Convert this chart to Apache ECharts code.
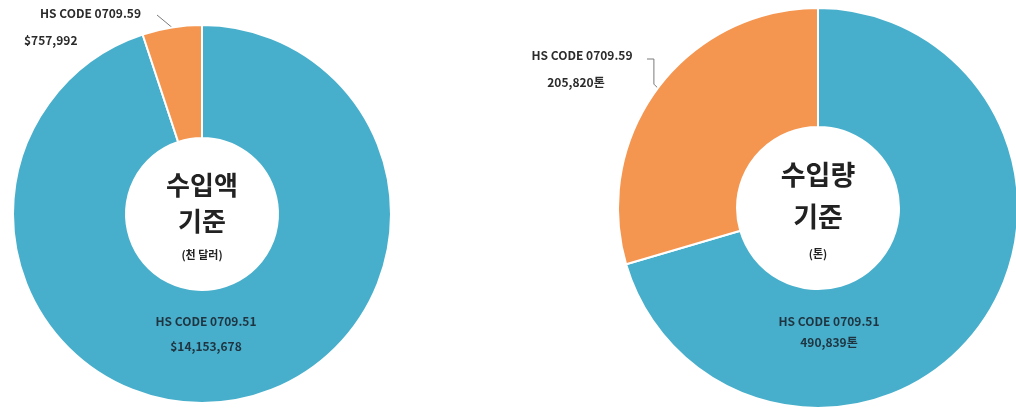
<!DOCTYPE html>
<html>
<head>
<meta charset="utf-8">
<script src="https://cdn.jsdelivr.net/npm/echarts@6/dist/echarts.min.js"></script>
<style>
  html, body { margin: 0; padding: 0; background: #ffffff; }
  #chart { width: 1016px; height: 412px; }
</style>
</head>
<body>
<div id="chart"></div>
<script>
// HS codes shown in both rings
const categories = ['HS CODE 0709.51', 'HS CODE 0709.59'];
// 수입액 (천 달러)
const importValue = [14153678, 757992];
// 수입량 (톤)
const importVolume = [490839, 205820];

const BLUE = '#47afcb';
const ORANGE = '#f49550';
const FONT = '"Noto Sans CJK KR", "Noto Sans", sans-serif';

const fmt = v => v.toLocaleString('en-US');

const chart = echarts.init(document.getElementById('chart'), null, { renderer: 'canvas' });

// inside label for the big slice, outside label with a leader for the small one
function buildData(values, valueText, opt) {
  return values.map((v, i) => {
    const item = {
      name: categories[i],
      value: v,
      itemStyle: { color: i === 0 ? BLUE : ORANGE }
    };
    if (i === 0) {
      item.label = {
        show: true,
        position: 'inside',
        formatter: p => '{a|' + p.name + '}\n{a|' + valueText(p.value) + '}',
        rich: { a: { fontFamily: FONT, fontSize: 12, fontWeight: 'bold', color: '#1f3440', lineHeight: opt.innerLH } }
      };
      item.labelLine = { show: false };
    } else {
      item.label = {
        show: true,
        position: 'outside',
        formatter: p => '{a|' + p.name + '}\n{b|' + valueText(p.value) + '}',
        rich: {
          a: { fontFamily: FONT, fontSize: 12, fontWeight: 'bold', color: '#2b2b2b', lineHeight: 27, padding: opt.padA },
          b: { fontFamily: FONT, fontSize: 12, fontWeight: 'bold', color: '#2b2b2b', lineHeight: 27, padding: opt.padB }
        }
      };
      item.labelLine = { show: true, lineStyle: { color: '#7a7a7a', width: 1 } };
    }
    return item;
  });
}

// point on the outer rim at the middle angle of slice idx
function anchorPoint(center, r, values, idx) {
  const total = values.reduce((s, x) => s + x, 0);
  let start = 0;
  for (let k = 0; k < idx; k++) start += values[k];
  const mid = (start + values[idx] / 2) / total;
  const ang = (90 - mid * 360) * Math.PI / 180;
  return [center[0] + r * Math.cos(ang), center[1] - r * Math.sin(ang)];
}

const leftCenter = [202, 214], leftR = [76, 189];
const rightCenter = [818, 208], rightR = [81, 200];

chart.setOption({
  backgroundColor: '#ffffff',
  animation: false,
  series: [
    {
      type: 'pie',
      center: leftCenter,
      radius: leftR,
      startAngle: 90,
      clockwise: true,
      itemStyle: { borderColor: '#ffffff', borderWidth: 2 },
      data: buildData(importValue, v => '$' + fmt(v), { innerLH: 25, padA: [0, 0, 0, 16], padB: [0, 0, 0, 0] }),
      labelLayout: p => {
        if (p.dataIndex === 0) {
          return { x: 206, y: 334, align: 'center', verticalAlign: 'middle' };
        }
        const a = anchorPoint(leftCenter, leftR[1], importValue, 1);
        return {
          x: 24, y: 27, align: 'left', verticalAlign: 'middle',
          labelLinePoints: [a, [a[0] - 6, a[1] - 5], [157, 15]]
        };
      }
    },
    {
      type: 'pie',
      center: rightCenter,
      radius: rightR,
      startAngle: 90,
      clockwise: true,
      itemStyle: { borderColor: '#ffffff', borderWidth: 2 },
      data: buildData(importVolume, v => fmt(v) + '톤', { innerLH: 21, padA: [0, 0, 0, 0], padB: [0, 12, 0, 0] }),
      labelLayout: p => {
        if (p.dataIndex === 0) {
          return { x: 829, y: 332, align: 'center', verticalAlign: 'middle' };
        }
        const a = anchorPoint(rightCenter, rightR[1], importVolume, 1);
        return {
          x: 582, y: 69, align: 'center', verticalAlign: 'middle',
          labelLinePoints: [a, [a[0] - 4, a[1] - 4], [a[0] - 4, 59], [647, 59]]
        };
      }
    }
  ],
  graphic: [
    { type: 'text', x: 202, y: 185, style: { text: '수입액', font: 'bold 26px ' + FONT, fill: '#222', align: 'center', verticalAlign: 'middle' } },
    { type: 'text', x: 202, y: 221, style: { text: '기준', font: 'bold 26px ' + FONT, fill: '#222', align: 'center', verticalAlign: 'middle' } },
    { type: 'text', x: 202, y: 255, style: { text: '(천 달러)', font: 'bold 11px ' + FONT, fill: '#222', align: 'center', verticalAlign: 'middle' } },
    { type: 'text', x: 818, y: 175, style: { text: '수입량', font: 'bold 27px ' + FONT, fill: '#222', align: 'center', verticalAlign: 'middle' } },
    { type: 'text', x: 818, y: 217, style: { text: '기준', font: 'bold 27px ' + FONT, fill: '#222', align: 'center', verticalAlign: 'middle' } },
    { type: 'text', x: 818, y: 254, style: { text: '(톤)', font: 'bold 11px ' + FONT, fill: '#222', align: 'center', verticalAlign: 'middle' } }
  ]
});
</script>
</body>
</html>
